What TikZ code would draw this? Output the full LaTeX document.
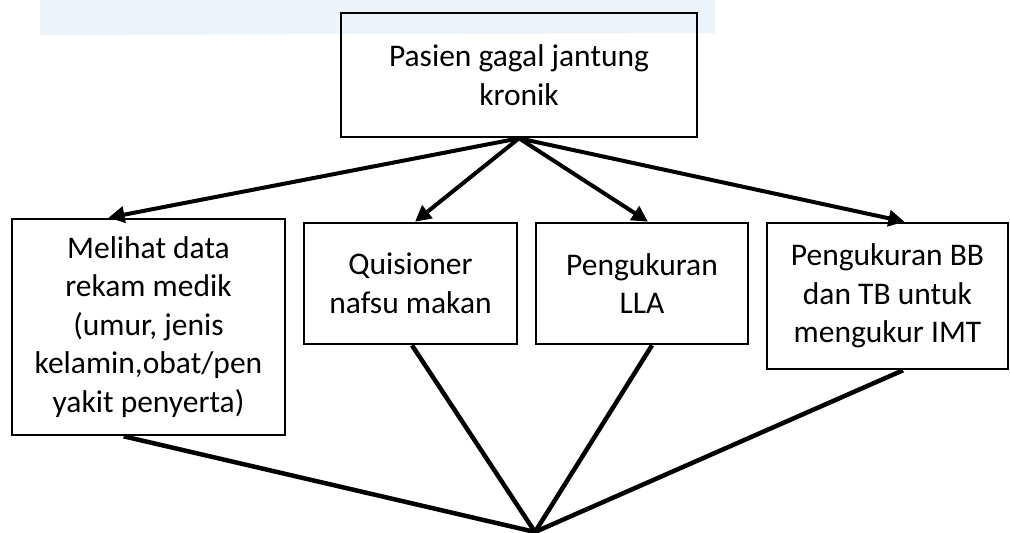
\documentclass[tikz,border=0pt]{standalone}
\usepackage{fontspec}
\setmainfont{Carlito}
\usetikzlibrary{arrows.meta,calc}
\definecolor{wm}{RGB}{236,244,250}
\begin{document}
\begin{tikzpicture}[x=1pt,y=1pt,
  box/.style={draw=black,line width=2.6pt,rectangle,inner sep=0pt,align=center,
    font=\fontsize{31.5}{38.5}\selectfont},
  arr/.style={line width=4pt,-{Triangle[length=16pt,width=16pt]}},
  conn/.style={line width=4.5pt}]
\useasboundingbox (0,0) rectangle (1010,533);
\fill[wm] (40,533) -- (715,533) -- (715,500) -- (40,498) -- cycle;
\node[box,minimum width=356pt,minimum height=124pt] (top) at (519,458) {Pasien gagal jantung\\kronik};
\node[box,minimum width=273pt,minimum height=216pt] (b1) at (148.5,206) {Melihat data\\rekam medik\\(umur, jenis\\kelamin,obat/pen\\yakit penyerta)};
\node[box,minimum width=213pt,minimum height=121pt] (b2) at (410.5,249.5) {Quisioner\\nafsu makan};
\node[box,minimum width=212pt,minimum height=121pt] (b3) at (642,249.5) {Pengukuran\\LLA};
\node[box,minimum width=241pt,minimum height=146pt] (b4) at (887.5,237) {Pengukuran BB\\dan TB untuk\\mengukur IMT};
\coordinate (m) at (535,1);
\draw[arr] (top.south) -- ([xshift=-40pt]b1.north);
\draw[arr] (top.south) -- ([xshift=4.5pt]b2.north);
\draw[arr] (top.south) -- ([xshift=6pt]b3.north);
\draw[arr] (top.south) -- ([xshift=17pt]b4.north);
\draw[conn] ([xshift=113pt]b1.south west) -- (m);
\draw[conn] ([xshift=1.5pt]b2.south) -- (m);
\draw[conn] ([xshift=10pt]b3.south) -- (m);
\draw[conn] ([xshift=15.5pt]b4.south) -- (m);
\end{tikzpicture}
\end{document}
